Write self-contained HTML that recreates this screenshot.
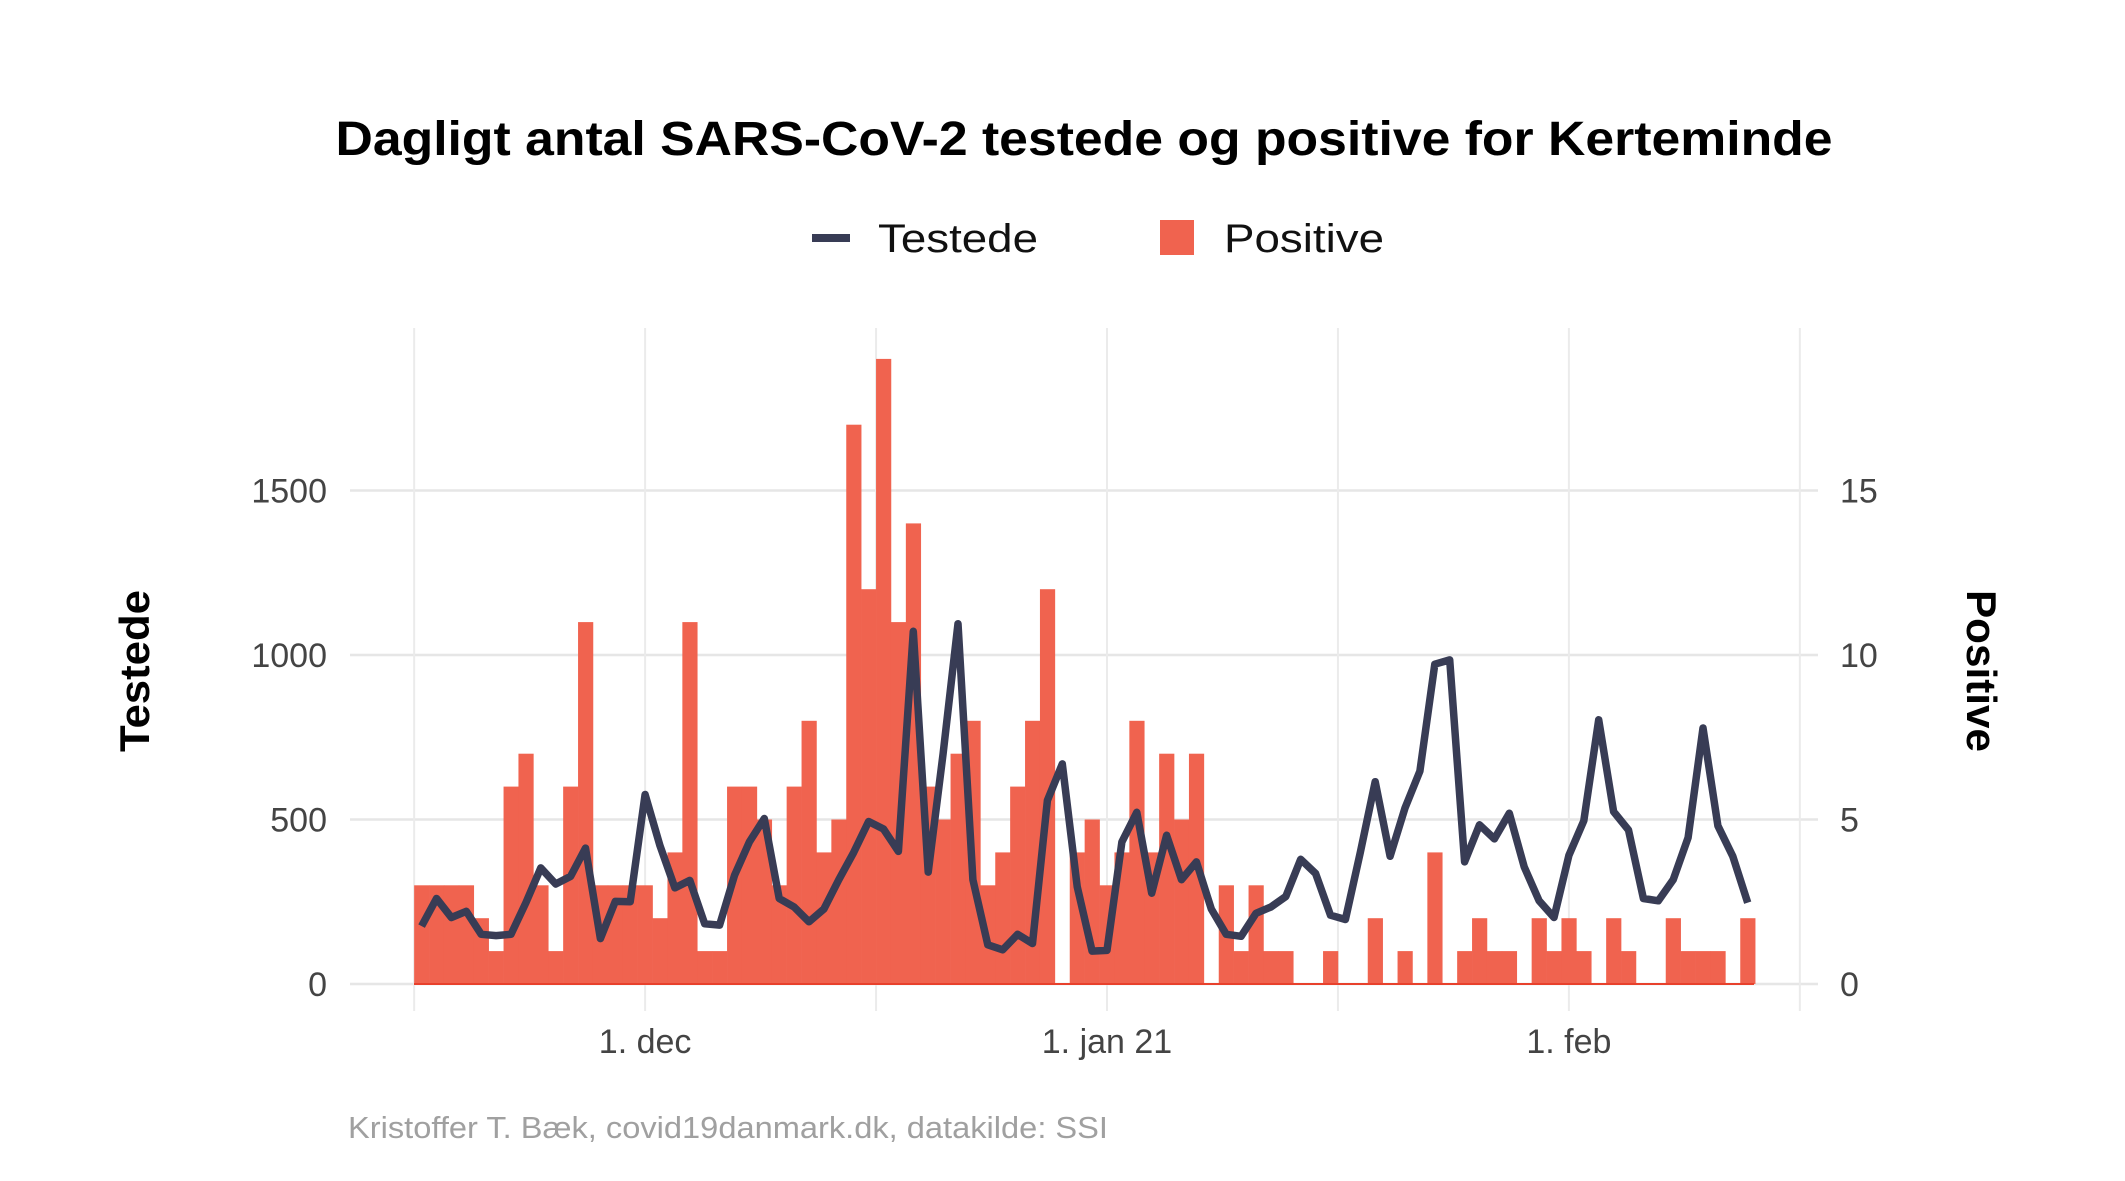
<!DOCTYPE html>
<html><head><meta charset="utf-8"><style>
html,body{margin:0;padding:0;background:#fff;}
svg{display:block;font-family:"Liberation Sans",sans-serif;}
</style></head><body>
<svg id="chart" width="2125" height="1181" viewBox="0 0 2125 1181" xmlns="http://www.w3.org/2000/svg">
<text x="1084" y="155" text-anchor="middle" font-size="48" font-weight="bold" fill="#000" textLength="1497" lengthAdjust="spacingAndGlyphs">Dagligt antal SARS-CoV-2 testede og positive for Kerteminde</text>
<g>
<g>
<line x1="812" y1="238" x2="850" y2="238" stroke="#383c55" stroke-width="8"/>
<text x="878" y="252" font-size="40" fill="#111" textLength="160" lengthAdjust="spacingAndGlyphs">Testede</text>
</g>
<g>
<rect x="1160" y="220" width="34" height="35" fill="#f0634f"/>
<text x="1224" y="252" font-size="40" fill="#111" textLength="160" lengthAdjust="spacingAndGlyphs">Positive</text>
</g>
</g>
<g id="grid"></g>
<g id="bars"></g>
<line x1="414" y1="984" x2="1754" y2="984" stroke="#e8412c" stroke-width="2"/>
<g id="lines"></g>
<g id="axes"></g>
<text transform="translate(149,671) rotate(-90)" text-anchor="middle" font-size="42" font-weight="bold" fill="#000" textLength="162" lengthAdjust="spacingAndGlyphs">Testede</text>
<text transform="translate(1967,671) rotate(90)" text-anchor="middle" font-size="42" font-weight="bold" fill="#000" textLength="162" lengthAdjust="spacingAndGlyphs">Positive</text>
<text x="348" y="1138" font-size="31" fill="#a0a0a0" textLength="760" lengthAdjust="spacingAndGlyphs">Kristoffer T. Bæk, covid19danmark.dk, datakilde: SSI</text>
</svg>
<script>
// day index 0 = 16 Nov 2020
const positives = [3,3,3,3,2,1,6,7,3,1,6,11,3,3,3,3,2,4,11,1,1,6,6,5,3,6,8,4,5,17,12,19,11,14,6,5,7,8,3,4,6,8,12,0,4,5,3,4,8,4,7,5,7,0,3,1,3,1,1,0,0,1,0,0,2,0,1,0,4,0,1,2,1,1,0,2,1,2,1,0,2,1,0,0,2,1,1,1,0,2];
const testede = [176,260,202,221,151,147,151,247,353,304,327,413,138,251,250,576,420,292,315,183,179,330,432,503,260,234,189,228,317,400,494,471,403,1072,340,700,1095,317,119,104,151,123,558,669,296,100,102,432,522,276,452,317,371,228,151,145,215,234,266,379,336,209,196,400,615,388,535,647,972,985,371,484,441,519,356,253,202,391,496,803,524,468,260,253,317,445,778,481,388,247];
const leftTicks = [0,500,1000,1500];
const rightTicks = [0,5,10,15];
const xTickDays = [15,46,77];
const xTickLabels = ["1. dec","1. jan 21","1. feb"];
const minorDays = [-0.5,30.5,61.5,92.5];

const NS="http://www.w3.org/2000/svg";
const dayW=14.9;
function xs(d){return 421.6+dayW*d;}
function yT(v){return 984-v*0.329;}
function yP(p){return yT(p*100);}
function mk(tag,attrs,parent){const e=document.createElementNS(NS,tag);for(const k in attrs)e.setAttribute(k,attrs[k]);parent.appendChild(e);return e;}

const grid=document.getElementById('grid');
leftTicks.forEach(v=>{
  const l=mk('line',{x1:350,x2:1818,y1:yT(v),y2:yT(v),stroke:'#e6e6e6','stroke-width':2.5},grid);
  
  
});
xTickDays.concat(minorDays).forEach(d=>{
  const l=mk('line',{x1:xs(d),x2:xs(d),y1:328,y2:1011,stroke:'#ebebeb','stroke-width':2},grid);
  
  
});

const bars=document.getElementById('bars');
positives.forEach((p,i)=>{
  if(p<=0)return;
  const r=mk('rect',{x:xs(i)-dayW/2,y:yP(p),width:dayW+0.3,height:984-yP(p),fill:'#f0634f'},bars);
  
  
});

const lines=document.getElementById('lines');
const pts=testede.map((v,i)=>xs(i).toFixed(1)+','+yT(v).toFixed(1)).join(' ');
const pl=mk('polyline',{points:pts,fill:'none',stroke:'#383c55','stroke-width':7.5,'stroke-linejoin':'round'},lines);



const axes=document.getElementById('axes');
leftTicks.forEach(v=>{
  const t=mk('text',{x:327,y:yT(v)+12,'text-anchor':'end','font-size':34,fill:'#444'},axes);
  t.textContent=v;
  
  
});
rightTicks.forEach(v=>{
  const t=mk('text',{x:1840,y:yP(v)+12,'font-size':34,fill:'#444'},axes);
  t.textContent=v;
  
  
});
xTickDays.forEach((d,i)=>{
  const t=mk('text',{x:xs(d),y:1053,'text-anchor':'middle','font-size':34,fill:'#444'},axes);
  t.textContent=xTickLabels[i];
  
  
});
</script>
</body></html>
